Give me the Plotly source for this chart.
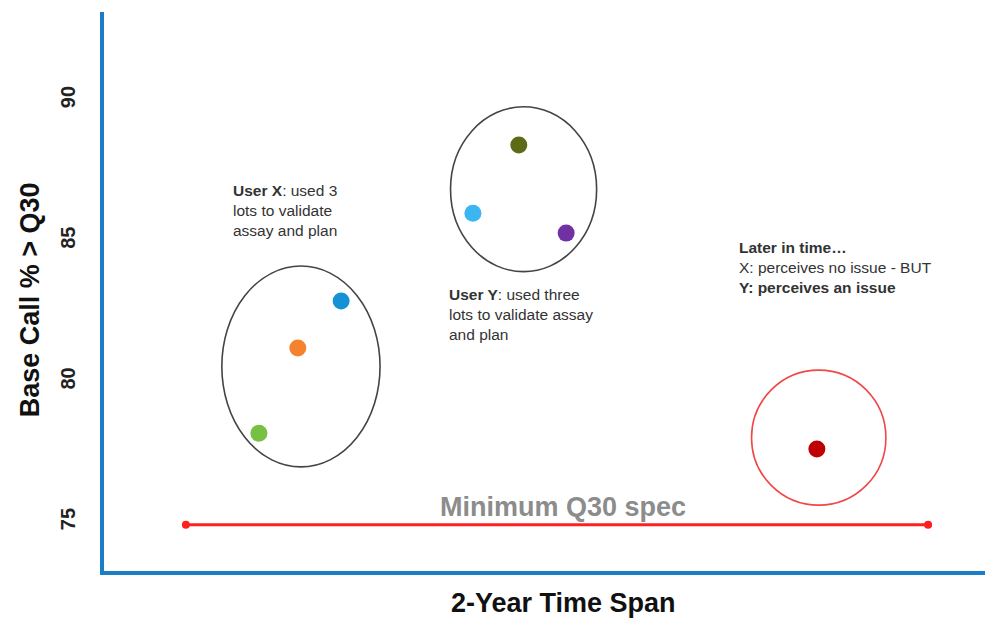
import plotly.graph_objects as go

# Months along a two-year window, and % of base calls above Q30
lot_months = [4.22, 5.28, 6.46, 10.05, 11.30, 12.59, 19.42]
lot_q30 = [78.16, 81.19, 82.86, 85.98, 88.40, 85.27, 77.60]
lot_colors = ["#77c043", "#f5822d", "#1591d6", "#3cb5f3", "#5d6a18", "#7231a3", "#c00000"]

spec_months = [2.23, 22.45]
spec_value = 74.9

y_ticks = [75, 80, 85, 90]

# Group outlines (x0, x1, y0, y1) in data units
user_x_group = (3.21, 7.52, 76.96, 84.10)
user_y_group = (9.44, 13.42, 83.90, 89.76)
later_group = (17.64, 21.30, 75.60, 80.40)

FONT = "Arial, Liberation Sans, Helvetica, sans-serif"
AXIS_BLUE = "#1b7cc8"

fig = go.Figure()

# Minimum spec line
fig.add_trace(go.Scatter(
    x=spec_months, y=[spec_value] * len(spec_months),
    mode="lines+markers",
    line=dict(color="#ff1f1f", width=3),
    marker=dict(color="#ff1f1f", size=8),
    hoverinfo="skip", showlegend=False,
))

# Lot measurements
fig.add_trace(go.Scatter(
    x=lot_months, y=lot_q30, mode="markers",
    marker=dict(color=lot_colors, size=17, line=dict(width=0)),
    showlegend=False,
))

for grp, col in [(user_x_group, "#444444"), (user_y_group, "#444444"), (later_group, "#f04848")]:
    fig.add_shape(type="circle", xref="x", yref="y",
                  x0=grp[0], x1=grp[1], y0=grp[2], y1=grp[3],
                  line=dict(color=col, width=1.6), layer="below")

note_font = dict(family=FONT, size=15.5, color="#333333")
fig.add_annotation(x=3.45, y=85.0, xref="x", yref="y", xanchor="left", yanchor="bottom",
                   align="left", showarrow=False, font=note_font,
                   text="<b>User X</b>: used 3<br>lots to validate<br>assay and plan")
fig.add_annotation(x=9.35, y=83.47, xref="x", yref="y", xanchor="left", yanchor="top",
                   align="left", showarrow=False, font=note_font,
                   text="<b>User Y</b>: used three<br>lots to validate assay<br>and plan")
fig.add_annotation(x=17.25, y=85.15, xref="x", yref="y", xanchor="left", yanchor="top",
                   align="left", showarrow=False, font=note_font,
                   text="<b>Later in time…</b><br>X: perceives no issue - BUT<br><b>Y: perceives an issue</b>")
fig.add_annotation(x=12.5, y=75.55, xref="x", yref="y", xanchor="center", yanchor="middle",
                   showarrow=False,
                   font=dict(family=FONT, size=27, color="#8c8c8c"),
                   text="<b>Minimum Q30 spec</b>")

# Axis titles
fig.add_annotation(x=0.522, y=-0.058, xref="paper", yref="paper", xanchor="center", yanchor="middle",
                   showarrow=False, font=dict(family=FONT, size=27, color="#111111"),
                   text="<b>2-Year Time Span</b>")
fig.add_annotation(x=-0.084, y=0.486, xref="paper", yref="paper", xanchor="center", yanchor="middle",
                   showarrow=False, textangle=-90, font=dict(family=FONT, size=27, color="#111111"),
                   text="<b>Base Call % > Q30</b>")

fig.update_layout(
    width=990, height=621,
    margin=dict(l=104, r=5, t=12, b=50),
    paper_bgcolor="white", plot_bgcolor="white",
    font=dict(family=FONT, color="#111111"),
)
fig.update_xaxes(
    range=[0, 24], showgrid=False, zeroline=False,
    showticklabels=False, ticks="",
    showline=True, linecolor=AXIS_BLUE, linewidth=4,
)
fig.update_yaxes(
    range=[73.26, 93.13], showgrid=False, zeroline=False,
    tickvals=y_ticks, ticks="", tickangle=-90,
    tickfont=dict(size=20, family=FONT, color="#222222", weight="bold"),
    ticklabelstandoff=17,
    showline=True, linecolor=AXIS_BLUE, linewidth=4,
)

fig.write_html("out.html")
